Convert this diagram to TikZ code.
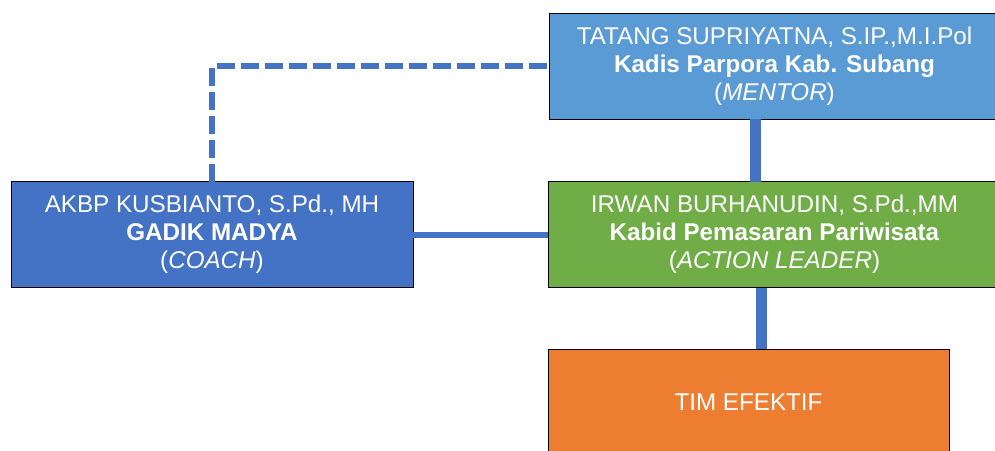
\documentclass[tikz,border=0pt]{standalone}
\usepackage{fontspec}
\setmainfont{Liberation Sans}
\usepackage{tikz}

\definecolor{MentorBlue}{HTML}{5B9BD5}
\definecolor{CoachBlue}{HTML}{4472C4}
\definecolor{LeaderGreen}{HTML}{70AD47}
\definecolor{TeamOrange}{HTML}{ED7D31}
\definecolor{LinkBlue}{HTML}{4472C4}

\begin{document}
\begin{tikzpicture}[x=1pt, y=-1pt,
  box/.style={draw=black, line width=0.9pt, text=white, align=center,
              inner sep=0pt, outer sep=0pt, minimum height=106pt,
              font=\fontsize{24.2}{28}\selectfont},
  thinlink/.style={LinkBlue, line width=6pt},
  thicklink/.style={LinkBlue, line width=11pt}]
\useasboundingbox (0,0) rectangle (995,450);
\clip (0,0) rectangle (995,450);

\node[box, fill=MentorBlue,  minimum width=451pt] (mentor) at (774.5, 66)
  {TATANG SUPRIYATNA, S.IP.,M.I.Pol\\\textbf{Kadis Parpora Kab. Subang}\\(\textit{MENTOR})};
\node[box, fill=CoachBlue,   minimum width=402pt] (coach)  at (212, 234.5)
  {AKBP KUSBIANTO, S.Pd., MH\\\textbf{GADIK MADYA}\\(\textit{COACH})};
\node[box, fill=LeaderGreen, minimum width=453pt] (leader) at (774.5, 234.5)
  {IRWAN BURHANUDIN, S.Pd.,MM\\\textbf{Kabid Pemasaran Pariwisata}\\(\textit{ACTION LEADER})};
\node[box, fill=TeamOrange,  minimum width=401pt] (team)   at (748.5, 402)
  {TIM EFEKTIF};

% connectors
\draw[thinlink, dash pattern=on 18pt off 6pt] (coach.north) |- (mentor.west);
\draw[thinlink] (coach.east) -- (leader.west);
\draw[thicklink] ([xshift=-19.5pt]mentor.south) -- ([xshift=-19.5pt]leader.north);
\draw[thicklink] ([xshift=-13.5pt]leader.south) -- ([xshift=12.5pt]team.north);

\end{tikzpicture}
\end{document}
